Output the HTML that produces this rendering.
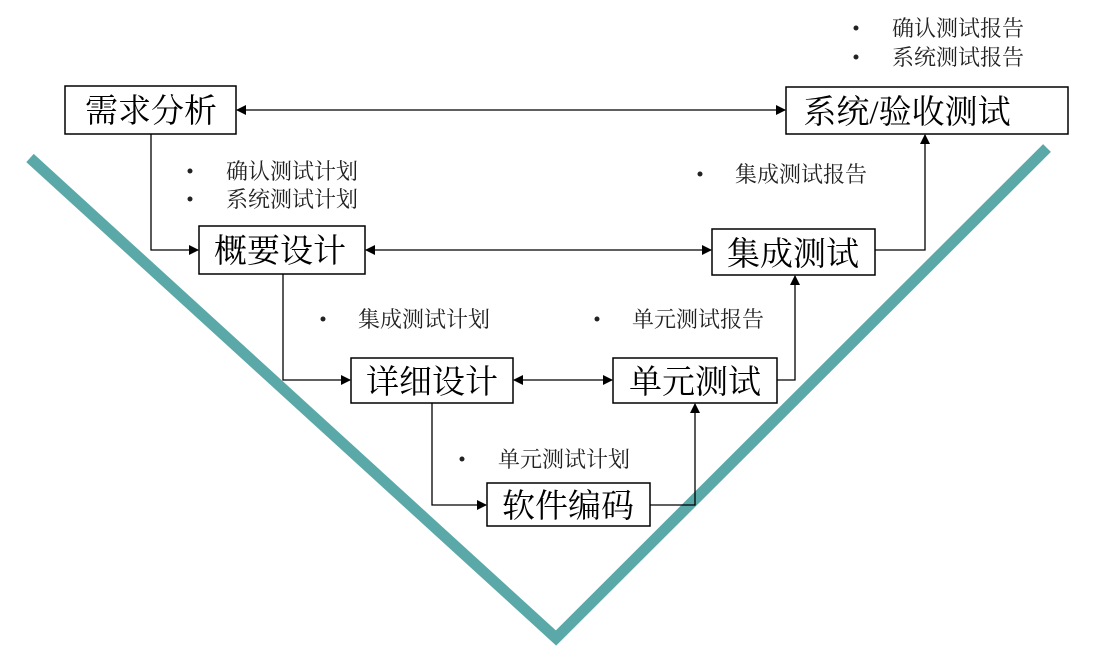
<!DOCTYPE html>
<html><head><meta charset="utf-8"><style>
html,body{margin:0;padding:0;background:#fff;}
body{width:1095px;height:651px;overflow:hidden;position:relative;}
svg{position:absolute;left:0;top:0;}
.b{font-family:"Liberation Serif","Noto Serif CJK SC","Noto Sans CJK SC",serif;font-size:33px;fill:#000;}
.l{font-family:"Liberation Serif","Noto Serif CJK SC","Noto Sans CJK SC",serif;font-size:22px;fill:#222;}
</style></head><body>
<svg width="1095" height="651" viewBox="0 0 1095 651">
<defs><marker id="a" markerWidth="10" markerHeight="10" refX="9" refY="5" orient="auto-start-reverse" markerUnits="userSpaceOnUse"><path d="M0,0 L10,5 L0,10 z" fill="#000"/></marker></defs>
<polyline points="30,158 556,638 1047,148" fill="none" stroke="#5aa9a8" stroke-width="11"/>
<g fill="#fff" stroke="#000" stroke-width="1.5">
<rect x="65" y="86" width="171" height="48"/>
<rect x="786" y="87" width="282" height="47"/>
<rect x="199" y="226" width="166" height="48"/>
<rect x="712" y="229" width="163" height="46"/>
<rect x="351" y="358" width="162" height="45"/>
<rect x="613" y="358" width="164" height="45"/>
<rect x="487" y="483" width="163" height="43"/>
</g>
<g fill="none" stroke="#000" stroke-width="1.3">
<line x1="237" y1="110" x2="785" y2="110" marker-start="url(#a)" marker-end="url(#a)"/>
<polyline points="151,134 151,250 198,250" marker-end="url(#a)"/>
<line x1="366" y1="250" x2="711" y2="250" marker-start="url(#a)" marker-end="url(#a)"/>
<polyline points="875,250 925,250 925,135" marker-end="url(#a)"/>
<polyline points="283,274 283,380 350,380" marker-end="url(#a)"/>
<line x1="514" y1="380" x2="612" y2="380" marker-start="url(#a)" marker-end="url(#a)"/>
<polyline points="777,380 795,380 795,276" marker-end="url(#a)"/>
<polyline points="432,403 432,505 486,505" marker-end="url(#a)"/>
<polyline points="650,505 695,505 695,404" marker-end="url(#a)"/>
</g>
<g class="b" text-anchor="middle">
<text x="151" y="122">需求分析</text>
<text x="907" y="123">系统/验收测试</text>
<text x="280" y="262">概要设计</text>
<text x="793" y="265">集成测试</text>
<text x="432" y="393">详细设计</text>
<text x="695" y="393">单元测试</text>
<text x="568" y="517">软件编码</text>
</g>
<g class="l">
<circle cx="856" cy="28" r="2.5"/><text x="892" y="36">确认测试报告</text>
<circle cx="856" cy="57" r="2.5"/><text x="892" y="65">系统测试报告</text>
<circle cx="190" cy="171" r="2.5"/><text x="226" y="179">确认测试计划</text>
<circle cx="190" cy="199" r="2.5"/><text x="226" y="207">系统测试计划</text>
<circle cx="700" cy="174" r="2.5"/><text x="735" y="182">集成测试报告</text>
<circle cx="323" cy="319" r="2.5"/><text x="358" y="327">集成测试计划</text>
<circle cx="597" cy="319" r="2.5"/><text x="632" y="327">单元测试报告</text>
<circle cx="462" cy="459" r="2.5"/><text x="498" y="467">单元测试计划</text>
</g>
</svg>
</body></html>
